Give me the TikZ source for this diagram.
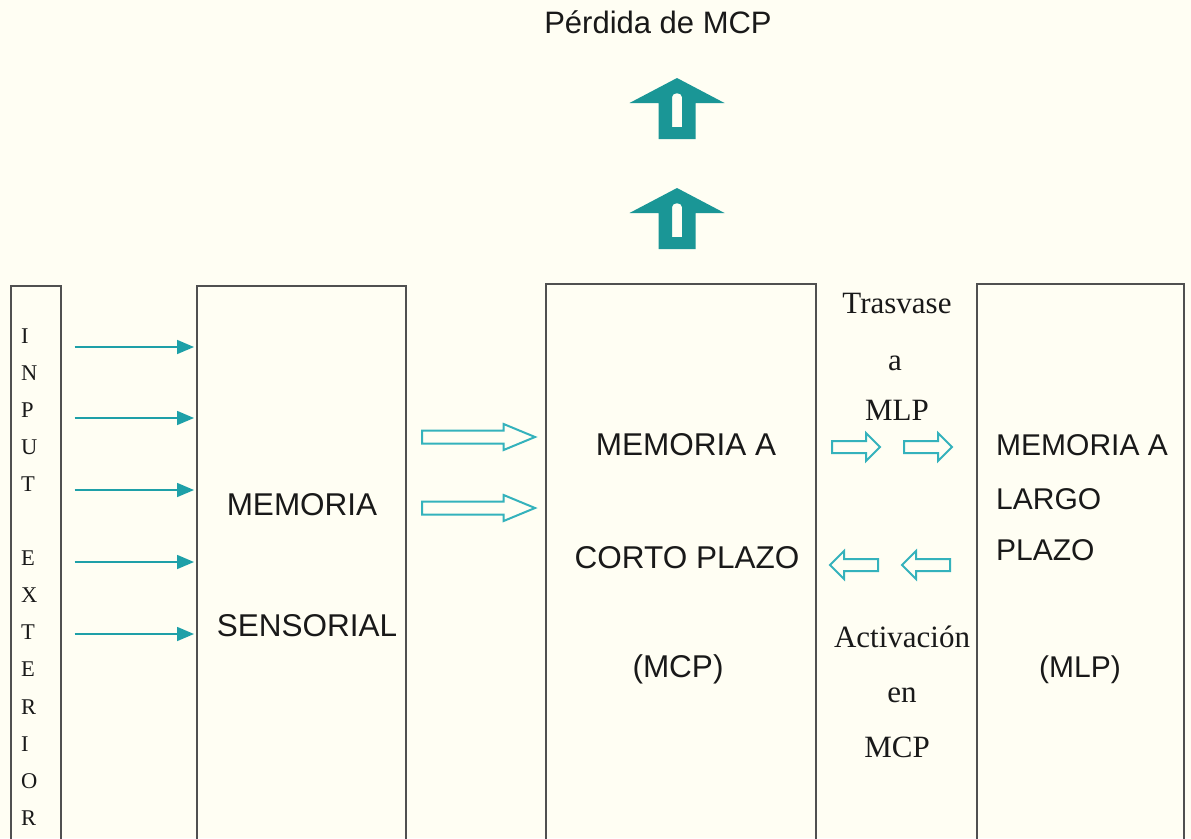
\documentclass[tikz,border=0pt]{standalone}
\usepackage{fontspec}
\setmainfont{Liberation Serif}
\setsansfont{Liberation Sans}
\usetikzlibrary{arrows.meta, shapes.arrows, positioning}
\definecolor{paper}{RGB}{255,254,243}
\definecolor{boxgray}{RGB}{80,80,80}
\definecolor{upteal}{RGB}{26,150,150}
\definecolor{hollowcyan}{RGB}{52,178,188}
\definecolor{feedteal}{RGB}{30,160,168}
\definecolor{ink}{RGB}{25,25,25}

\begin{document}
\begin{tikzpicture}[x=1pt, y=-1pt,
    box/.style={draw=boxgray, line width=1.6pt, anchor=north west, minimum height=600pt, inner sep=0pt},
    sanslab/.style={font=\fontsize{31.5}{36}\sffamily, text=ink, anchor=base, inner sep=0pt},
    seriflab/.style={font=\fontsize{31}{36}\selectfont, text=ink, anchor=base, inner sep=0pt},
    letter/.style={font=\fontsize{22.5}{26}\selectfont, text=ink, anchor=base west, inner sep=0pt},
    feed/.style={draw=feedteal, line width=1.6pt, -{Triangle[length=17pt, width=14pt]}},
    fat/.style={single arrow, draw=hollowcyan, line width=2pt, inner xsep=0pt, inner ysep=5.5pt,
        single arrow tip angle=45, single arrow head extend=6.5pt, minimum height=113pt, anchor=tail},
    small/.style={single arrow, draw=hollowcyan, line width=2pt, inner xsep=0pt, inner ysep=5pt,
        single arrow tip angle=90, single arrow head extend=8pt, minimum height=48pt, anchor=tail},
    back/.style={small, shape border rotate=180}]
    \fill[paper] (0,0) rectangle (1191,838);
    \useasboundingbox (0,0) rectangle (1191,838);

    % boxes
    \node[box, minimum width=50pt] (inp) at (10,285) {};
    \node[box, minimum width=209pt] (sens) at (196,285) {};
    \node[box, minimum width=270pt] (mcp) at (545,283) {};
    \node[box, minimum width=207pt] (mlp) at (976,283) {};

    % input letters
    \foreach \l [count=\k from 0] in {I,N,P,U,T,{},E,X,T,E,R,I,O,R}
        \node[letter] (in\k) at (21,{343+37.1*\k}) {\l};

    % input arrows
    \foreach \y [count=\i] in {347,418,490,562,634} {
        \coordinate (r\i) at (0,\y);
        \draw[feed] ([xshift=13pt]inp.east |- r\i) -- ([xshift=-2pt]sens.west |- r\i);
    }

    % labels
    \node[sanslab, font=\fontsize{31}{36}\sffamily] (loss) at (658,33) {Pérdida de MCP};
    \node[sanslab] (sens1) at (302,515) {MEMORIA};
    \node[sanslab] (sens2) at (307,636) {SENSORIAL};
    \node[sanslab] (mcp1) at (686,455) {MEMORIA A};
    \node[sanslab] (mcp2) at (687,568) {CORTO PLAZO};
    \node[sanslab] (mcp3) at (678,677) {(MCP)};
    \node[sanslab, anchor=base west, font=\fontsize{30}{36}\sffamily] (mlp1) at (996,455) {MEMORIA A};
    \node[sanslab, anchor=base west, font=\fontsize{30}{36}\sffamily] (mlp2) at (996,509) {LARGO};
    \node[sanslab, anchor=base west, font=\fontsize{30}{36}\sffamily] (mlp3) at (996,560) {PLAZO};
    \node[sanslab, font=\fontsize{30}{36}\sffamily] (mlp4) at (1080,677) {(MLP)};
    \node[seriflab] (tr1) at (897,313) {Trasvase};
    \node[seriflab] (tr2) at (895,370) {a};
    \node[seriflab] (tr3) at (897,420) {MLP};
    \node[seriflab] (ac1) at (902,647) {Activación};
    \node[seriflab] (ac2) at (902,702) {en};
    \node[seriflab] (ac3) at (897,757) {MCP};

    % hollow arrows
    \node[fat] (sm1) at (421,437) {};
    \node[fat] (sm2) at (421,508) {};
    \node[small] (to1) at (831,447) {};
    \node[small] (to2) at (903,447) {};
    \node[back] (bk1) at (879,565) {};
    \node[back] (bk2) at (951,565) {};

    % loss arrows
    \foreach \t in {78,188} {
        \begin{scope}[shift={(677,\t)}]
            \fill[upteal, even odd rule] (-47.5,25) -- (0,0) -- (47.5,25) -- (18.5,25) -- (18.5,61)
                -- (-18.5,61) -- (-18.5,25) -- cycle
                (-5,49) -- (5,49) -- (5,19) .. controls (5,14) and (-5,14) .. (-5,19) -- cycle;
        \end{scope}
    }
\end{tikzpicture}
\end{document}
